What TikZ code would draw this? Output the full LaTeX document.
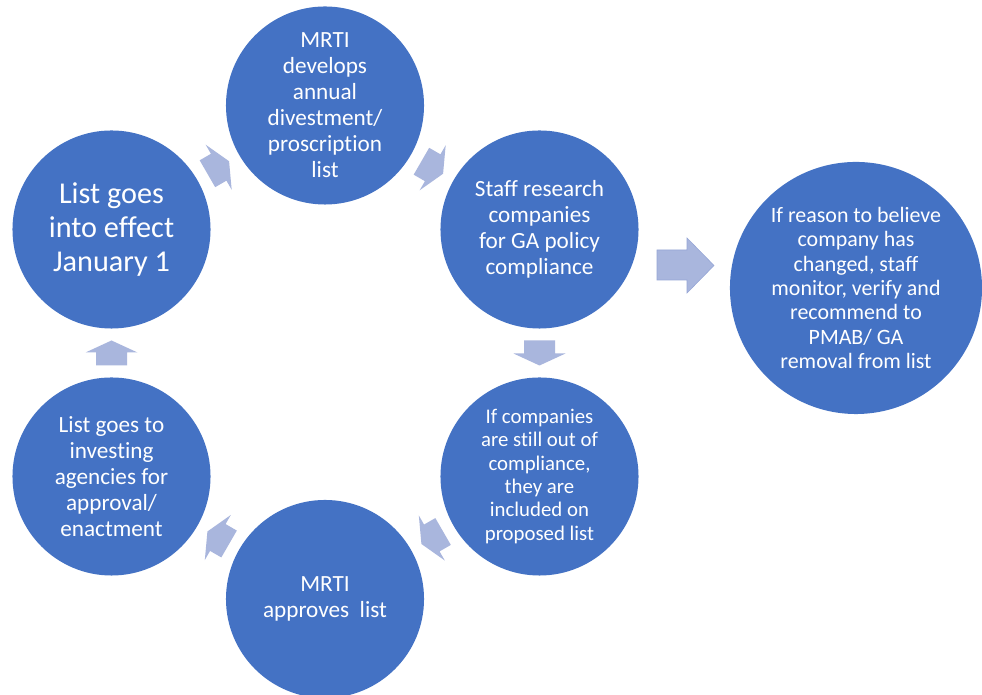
\documentclass[tikz,border=0pt]{standalone}
\usepackage{fontspec}
\setmainfont{Carlito}[Ligatures = NoCommon]
\usepackage{tikz}
\usetikzlibrary{arrows, automata, calc}

\definecolor{cycleblue}{RGB}{68,114,196}
\definecolor{arrowlav}{RGB}{169,182,221}
\definecolor{arrowedge}{RGB}{150,166,214}

\begin{document}
\begin{tikzpicture}[
            x = 0.025cm, % one unit = one pixel of the original
            y = 0.025cm,
            auto,
            semithick % line style
        ]

        \tikzstyle{every state}=[
            draw = none,
            fill = cycleblue,
            text = white,
            align = center,
            inner sep = 0pt,
            minimum size = 4.95cm,
            font = \fontsize{16.5}{18.5}\selectfont
        ]
        \tikzset{
            cyclearrow/.pic = {
                \fill[arrowlav] (-12.5,-15.5) -- (0.5,-15.5) -- (0.5,-26) -- (12.5,0)
                    -- (0.5,26) -- (0.5,15.5) -- (-12.5,15.5) -- cycle;
            }
        }

        \useasboundingbox[fill = white] (0,0) rectangle (982,695);

        % the cycle
        \node[state] (develop) at (325,589.5) {MRTI\\develops\\annual\\divestment/\\proscription\\list};
        \node[state] (research) at (539.5,465.5) {Staff research\\companies\\for GA policy\\compliance};
        \node[state] (propose) at (539.5,218.5) [font = \fontsize{14.8}{16.6}\selectfont] {If companies\\are still out of\\compliance,\\they are\\included on\\proposed list};
        \node[state] (approve) at (325,96) {MRTI\\approves~ list};
        \node[state] (enact) at (111.5,218.5) {List goes to\\investing\\agencies for\\approval/\\enactment};
        \node[state] (golive) at (111.5,465.5) [font = \fontsize{21.5}{24.5}\selectfont] {List goes\\into effect\\January 1};

        % side branch
        \node[state] (review) at (856,407) [minimum size = 6.3cm, font = \fontsize{15.6}{17.4}\selectfont] {If reason to believe\\company has\\changed, staff\\monitor, verify and\\recommend to\\PMAB/ GA\\removal from list};

        \pic[rotate = 30] at ($(golive)!0.5!(develop)$) {cyclearrow};
        \pic[rotate = -30] at ($(develop)!0.5!(research)$) {cyclearrow};
        \pic[rotate = -90] at ($(research)!0.5!(propose)$) {cyclearrow};
        \pic[rotate = -150] at ($(propose)!0.5!(approve)$) {cyclearrow};
        \pic[rotate = 150] at ($(approve)!0.5!(enact)$) {cyclearrow};
        \pic[rotate = 90] at ($(enact)!0.5!(golive)$) {cyclearrow};

        \filldraw[fill = arrowlav, draw = arrowedge, thin] (657,445) -- (687,445) -- (687,457) -- (714,429.5)
            -- (687,402) -- (687,415) -- (657,415) -- cycle;
    \end{tikzpicture}
\end{document}
